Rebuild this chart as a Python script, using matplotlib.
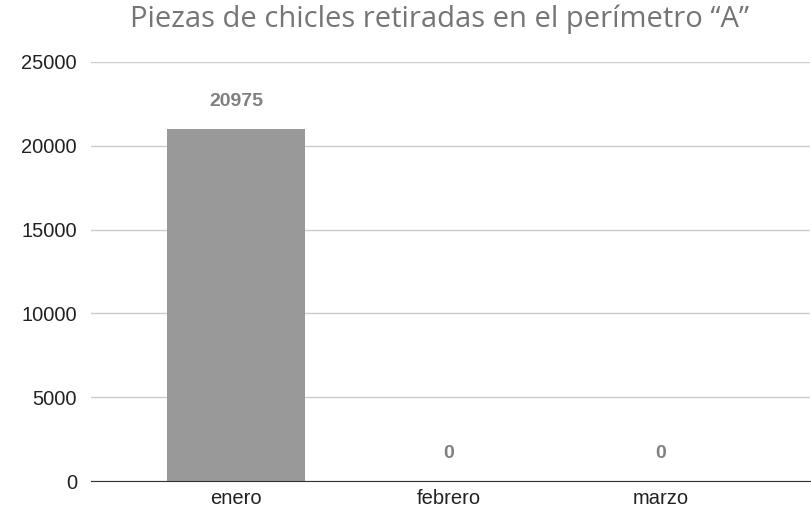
import matplotlib.pyplot as plt
import numpy as np

months = ["enero", "febrero", "marzo"]
piezas = [20975, 0, 0]
yticks = [0, 5000, 10000, 15000, 20000, 25000]

fig = plt.figure(figsize=(8.11, 5.11), dpi=100)
ax = fig.add_axes([0.1122, 0.0587, 0.8866, 0.82])

x = np.arange(len(months))
ax.bar(x, piezas, width=0.65, color="#999999", zorder=2)

for xi, v in zip(x, piezas):
    ax.text(xi, v + 1650, str(v), ha="center", va="center",
            fontsize=14, fontweight="bold", color="#808080",
            family="Liberation Sans")

ax.set_xlim(-0.682, 2.701)
ax.set_ylim(0, 25000)
ax.set_yticks(yticks)
ax.set_yticklabels([str(t) for t in yticks], family="Liberation Sans", fontsize=14.5, color="#222222")
ax.set_xticks(x)
ax.set_xticklabels(months, family="Liberation Sans", fontsize=14.5, color="#222222")
ax.tick_params(length=0, pad=6)
ax.tick_params(axis="y", pad=10)
ax.grid(axis="y", color="#cccccc", linewidth=1, zorder=0)
for s in ["top", "right", "left"]:
    ax.spines[s].set_visible(False)
ax.spines["bottom"].set_color("#333333")
ax.spines["bottom"].set_zorder(3)

fig.text(0.5425, 0.962, "Piezas de chicles retiradas en el perímetro \u201cA\u201d",
         ha="center", va="center", fontsize=21, color="#757575", family="Open Sans")

fig.savefig("out.png", dpi=100)
